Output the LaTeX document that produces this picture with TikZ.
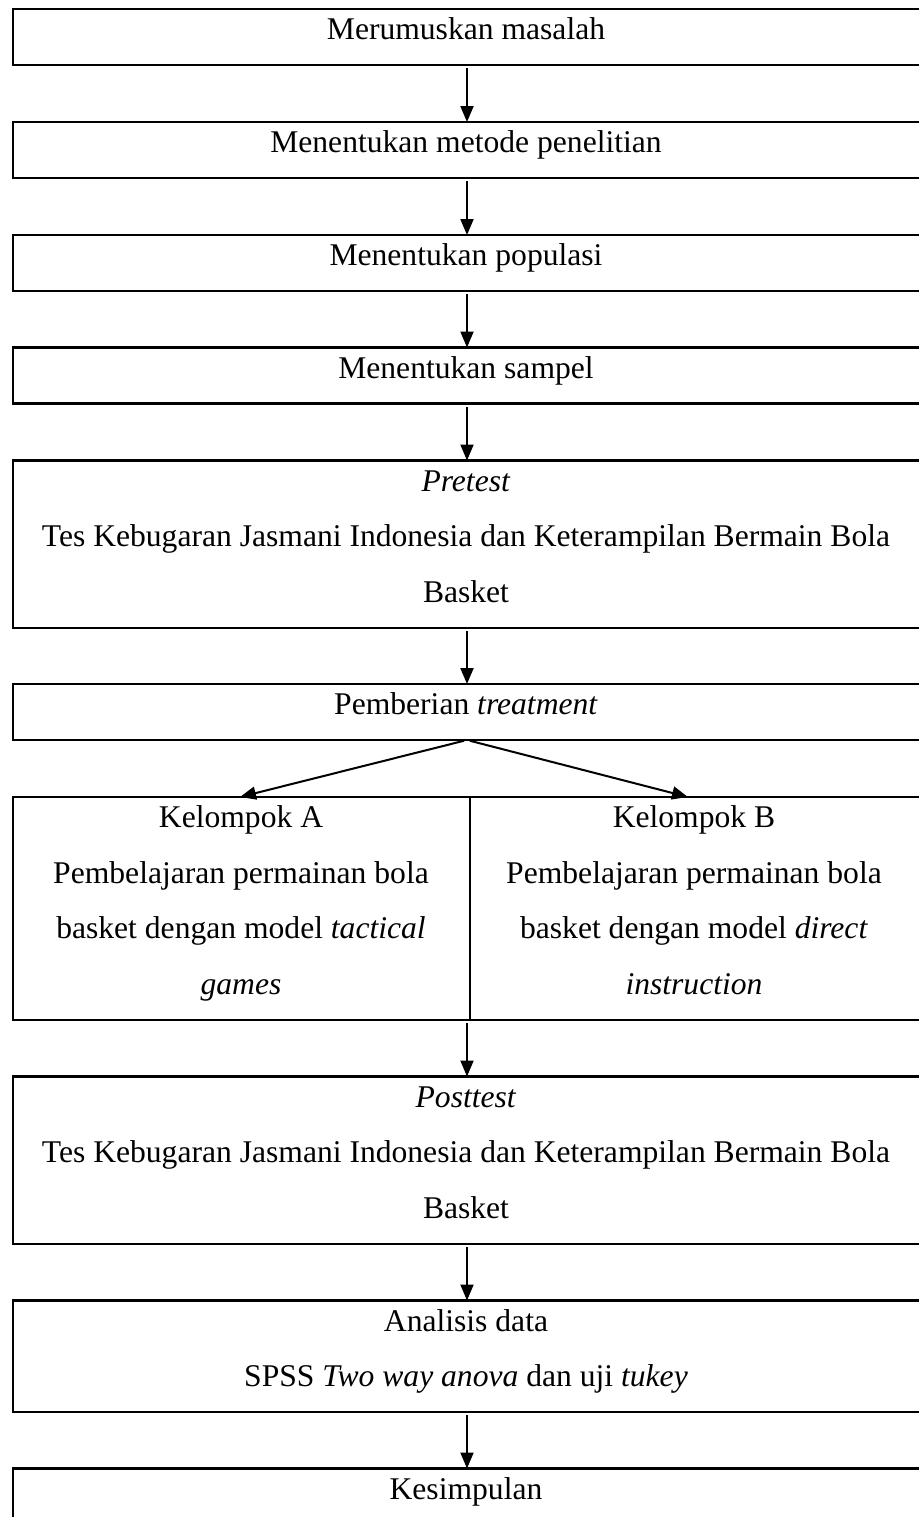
\documentclass[tikz,border=0pt]{standalone}
\usepackage{fontspec}
\setmainfont{Liberation Serif}
\usetikzlibrary{arrows.meta}
\begin{document}
\begin{tikzpicture}[x=0.5pt,y=-0.5pt,
  box/.style={draw,line width=1.1pt,anchor=north west,minimum width=454pt,inner sep=0pt,outer sep=0pt},
  txt/.style={anchor=base,inner sep=0pt,font=\fontsize{15.8}{19}\selectfont},
  flow/.style={line width=1pt,shorten <=1.5pt,-{Triangle[length=8pt,width=6.5pt]}}]
\useasboundingbox (0,0) rectangle (919,1517);
\clip (0,0) rectangle (919,1517);
% boxes
\node[box,minimum height=28pt] (b1) at (13,9) {};
\node[box,minimum height=28pt] (b2) at (13,122) {};
\node[box,minimum height=28pt] (b3) at (13,235) {};
\node[box,minimum height=28pt] (b4) at (13,347.5) {};
\node[box,minimum height=83.6pt] (b5) at (13,460.5) {};
\node[box,minimum height=28pt] (b6) at (13,684) {};
\node[box,minimum height=111.4pt] (b7) at (13,797) {};
\node[box,minimum height=83.6pt] (b8) at (13,1076.5) {};
\node[box,minimum height=55.8pt] (b9) at (13,1300.5) {};
\node[box,minimum height=40pt] (b10) at (13,1468.5) {};
\draw[line width=1.1pt] (470,797) -- (470,1019.8);
% texts
\node[txt] (t1) at (466,39.5) {Merumuskan masalah};
\node[txt] (t2) at (466,152.5) {Menentukan metode penelitian};
\node[txt] (t3) at (466,265.5) {Menentukan populasi};
\node[txt] (t4) at (466,378) {Menentukan sampel};
\node[txt] (t5a) at (466,491) {\textit{Pretest}};
\node[txt] (t5b) at (466,546.6) {Tes Kebugaran Jasmani Indonesia dan Keterampilan Bermain Bola};
\node[txt] (t5c) at (466,602.2) {Basket};
\node[txt] (t6) at (466,714.5) {Pemberian \textit{treatment}};
\node[txt] (ta1) at (241,827.5) {Kelompok A};
\node[txt] (ta2) at (241,883.1) {Pembelajaran permainan bola};
\node[txt] (ta3) at (241,938.7) {basket dengan model \textit{tactical}};
\node[txt] (ta4) at (241,994.3) {\textit{games}};
\node[txt] (tb1) at (694,827.5) {Kelompok B};
\node[txt] (tb2) at (694,883.1) {Pembelajaran permainan bola};
\node[txt] (tb3) at (694,938.7) {basket dengan model \textit{direct}};
\node[txt] (tb4) at (694,994.3) {\textit{instruction}};
\node[txt] (t8a) at (466,1107) {\textit{Posttest}};
\node[txt] (t8b) at (466,1162.6) {Tes Kebugaran Jasmani Indonesia dan Keterampilan Bermain Bola};
\node[txt] (t8c) at (466,1218.2) {Basket};
\node[txt] (t9a) at (466,1331) {Analisis data};
\node[txt] (t9b) at (466,1386.6) {SPSS \textit{Two way anova} dan uji \textit{tukey}};
\node[txt] (t10) at (466,1499) {Kesimpulan};
% connectors
\coordinate (ka) at (240,797);
\coordinate (kb) at (688,797);
\draw[flow] (b1.south) -- (b2.north);
\draw[flow] (b2.south) -- (b3.north);
\draw[flow] (b3.south) -- (b4.north);
\draw[flow] (b4.south) -- (b5.north);
\draw[flow] (b5.south) -- (b6.north);
\draw[flow] (b6.south) -- (ka);
\draw[flow] (b6.south) -- (kb);
\draw[flow] (b7.south) -- (b8.north);
\draw[flow] (b8.south) -- (b9.north);
\draw[flow] (b9.south) -- (b10.north);
\end{tikzpicture}
\end{document}
